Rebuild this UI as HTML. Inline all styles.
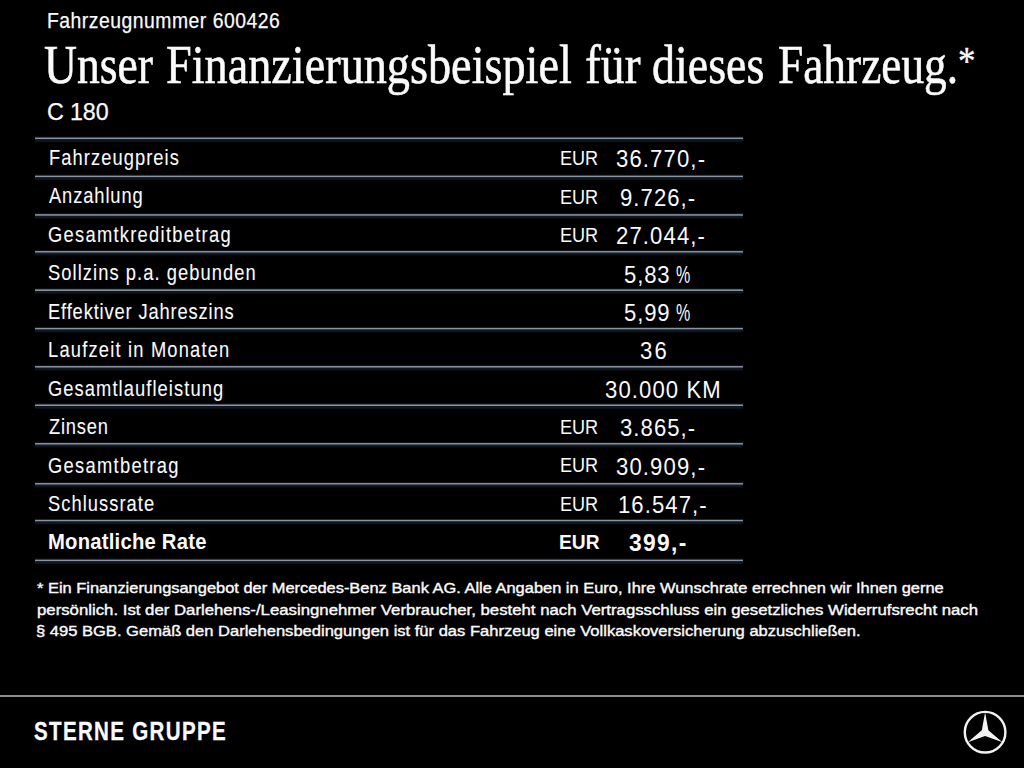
<!DOCTYPE html>
<html><head><meta charset="utf-8"><style>
html,body{margin:0;padding:0;background:#000;}
body{width:1024px;height:768px;position:relative;overflow:hidden;color:#fff;font-family:'Liberation Sans', sans-serif;}
.t{position:absolute;white-space:nowrap;transform-origin:0 0;color:#fafafa;}
svg{position:absolute;left:0;top:0;}
</style></head><body>
<svg width="1024" height="768" viewBox="0 0 1024 768">
<rect x="35" y="136.60" width="708" height="1" fill="#14171b"/><rect x="35" y="137.55" width="708" height="1.7" fill="#8a93a2"/><rect x="35" y="139.25" width="708" height="2.6" fill="#0e1620"/><rect x="35" y="174.70" width="708" height="1" fill="#14171b"/><rect x="35" y="175.65" width="708" height="1.7" fill="#8a93a2"/><rect x="35" y="177.35" width="708" height="2.6" fill="#0e1620"/><rect x="35" y="213.20" width="708" height="1" fill="#14171b"/><rect x="35" y="214.15" width="708" height="1.7" fill="#8a93a2"/><rect x="35" y="215.85" width="708" height="2.6" fill="#0e1620"/><rect x="35" y="250.10" width="708" height="1" fill="#14171b"/><rect x="35" y="251.05" width="708" height="1.7" fill="#8a93a2"/><rect x="35" y="252.75" width="708" height="2.6" fill="#0e1620"/><rect x="35" y="288.40" width="708" height="1" fill="#14171b"/><rect x="35" y="289.35" width="708" height="1.7" fill="#8a93a2"/><rect x="35" y="291.05" width="708" height="2.6" fill="#0e1620"/><rect x="35" y="326.95" width="708" height="1" fill="#14171b"/><rect x="35" y="327.90" width="708" height="1.7" fill="#8a93a2"/><rect x="35" y="329.60" width="708" height="2.6" fill="#0e1620"/><rect x="35" y="365.10" width="708" height="1" fill="#14171b"/><rect x="35" y="366.05" width="708" height="1.7" fill="#8a93a2"/><rect x="35" y="367.75" width="708" height="2.6" fill="#0e1620"/><rect x="35" y="403.50" width="708" height="1" fill="#14171b"/><rect x="35" y="404.45" width="708" height="1.7" fill="#8a93a2"/><rect x="35" y="406.15" width="708" height="2.6" fill="#0e1620"/><rect x="35" y="442.10" width="708" height="1" fill="#14171b"/><rect x="35" y="443.05" width="708" height="1.7" fill="#8a93a2"/><rect x="35" y="444.75" width="708" height="2.6" fill="#0e1620"/><rect x="35" y="482.10" width="708" height="1" fill="#14171b"/><rect x="35" y="483.05" width="708" height="1.7" fill="#8a93a2"/><rect x="35" y="484.75" width="708" height="2.6" fill="#0e1620"/><rect x="35" y="518.90" width="708" height="1" fill="#14171b"/><rect x="35" y="519.85" width="708" height="1.7" fill="#8a93a2"/><rect x="35" y="521.55" width="708" height="2.6" fill="#0e1620"/><rect x="35" y="558.70" width="708" height="1" fill="#14171b"/><rect x="35" y="559.65" width="708" height="1.7" fill="#8a93a2"/><rect x="35" y="561.35" width="708" height="2.6" fill="#0e1620"/>
<rect x="0" y="695.00" width="1024" height="2" fill="#8e8e8e"/>
<circle cx="985.1" cy="732.2" r="20.30" fill="none" stroke="#f2f2f2" stroke-width="2.4"/>
<polygon points="985.10,712.20 988.39,730.30 1002.42,742.20 985.10,736.00 967.78,742.20 981.81,730.30" fill="#f2f2f2"/>
</svg>
<div class="t" style="left:46.96px;top:10.00px;font-family:'Liberation Sans', sans-serif;font-size:22px;line-height:22px;transform:scaleX(0.8800);letter-spacing:0.565px;-webkit-text-stroke:0.25px currentColor;">Fahrzeugnummer 600426</div><div class="t" style="left:44.09px;top:37.00px;font-family:'Liberation Serif', serif;font-size:55.6px;line-height:55.6px;transform:scaleX(0.8204);-webkit-text-stroke:0.6px currentColor;">Unser</div><div class="t" style="left:166.17px;top:37.00px;font-family:'Liberation Serif', serif;font-size:55.6px;line-height:55.6px;transform:scaleX(0.8318);-webkit-text-stroke:0.6px currentColor;">Finanzierungsbeispiel</div><div class="t" style="left:584.68px;top:37.00px;font-family:'Liberation Serif', serif;font-size:55.6px;line-height:55.6px;transform:scaleX(0.8557);-webkit-text-stroke:0.6px currentColor;">für</div><div class="t" style="left:652.32px;top:37.00px;font-family:'Liberation Serif', serif;font-size:55.6px;line-height:55.6px;transform:scaleX(0.8267);-webkit-text-stroke:0.6px currentColor;">dieses</div><div class="t" style="left:778.43px;top:37.00px;font-family:'Liberation Serif', serif;font-size:55.6px;line-height:55.6px;transform:scaleX(0.8160);-webkit-text-stroke:0.6px currentColor;">Fahrzeug.</div><div class="t" style="left:958.03px;top:42.00px;font-family:'Liberation Serif', serif;font-size:39.8px;line-height:39.8px;transform:scaleX(0.8786);-webkit-text-stroke:0.4px currentColor;">*</div><div class="t" style="left:47.45px;top:100.00px;font-family:'Liberation Sans', sans-serif;font-size:24px;line-height:24px;transform:scaleX(0.9700);letter-spacing:-0.136px;-webkit-text-stroke:0.25px currentColor;">C 180</div><div class="t" style="left:48.76px;top:147.00px;font-family:'Liberation Sans', sans-serif;font-size:21.8px;line-height:21.8px;transform:scaleX(0.8400);letter-spacing:1.273px;-webkit-text-stroke:0.1px currentColor;">Fahrzeugpreis</div><div class="t" style="left:48.66px;top:185.00px;font-family:'Liberation Sans', sans-serif;font-size:21.8px;line-height:21.8px;transform:scaleX(0.8400);letter-spacing:1.068px;-webkit-text-stroke:0.1px currentColor;">Anzahlung</div><div class="t" style="left:48.18px;top:224.00px;font-family:'Liberation Sans', sans-serif;font-size:21.8px;line-height:21.8px;transform:scaleX(0.8400);letter-spacing:1.527px;-webkit-text-stroke:0.1px currentColor;">Gesamtkreditbetrag</div><div class="t" style="left:47.68px;top:262.00px;font-family:'Liberation Sans', sans-serif;font-size:21.8px;line-height:21.8px;transform:scaleX(0.8400);letter-spacing:1.266px;-webkit-text-stroke:0.1px currentColor;">Sollzins p.a. gebunden</div><div class="t" style="left:48.16px;top:301.00px;font-family:'Liberation Sans', sans-serif;font-size:21.8px;line-height:21.8px;transform:scaleX(0.8400);letter-spacing:1.012px;-webkit-text-stroke:0.1px currentColor;">Effektiver Jahreszins</div><div class="t" style="left:48.18px;top:339.00px;font-family:'Liberation Sans', sans-serif;font-size:21.8px;line-height:21.8px;transform:scaleX(0.8400);letter-spacing:1.421px;-webkit-text-stroke:0.1px currentColor;">Laufzeit in Monaten</div><div class="t" style="left:48.18px;top:378.00px;font-family:'Liberation Sans', sans-serif;font-size:21.8px;line-height:21.8px;transform:scaleX(0.8400);letter-spacing:1.288px;-webkit-text-stroke:0.1px currentColor;">Gesamtlaufleistung</div><div class="t" style="left:48.63px;top:416.00px;font-family:'Liberation Sans', sans-serif;font-size:21.8px;line-height:21.8px;transform:scaleX(0.8400);letter-spacing:0.952px;-webkit-text-stroke:0.1px currentColor;">Zinsen</div><div class="t" style="left:48.16px;top:455.00px;font-family:'Liberation Sans', sans-serif;font-size:21.8px;line-height:21.8px;transform:scaleX(0.8400);letter-spacing:1.552px;-webkit-text-stroke:0.1px currentColor;">Gesamtbetrag</div><div class="t" style="left:47.64px;top:493.00px;font-family:'Liberation Sans', sans-serif;font-size:21.8px;line-height:21.8px;transform:scaleX(0.8400);letter-spacing:1.251px;-webkit-text-stroke:0.1px currentColor;">Schlussrate</div><div class="t" style="left:48.20px;top:531.00px;font-family:'Liberation Sans', sans-serif;font-size:21.8px;line-height:21.8px;font-weight:bold;transform:scaleX(0.9300);letter-spacing:0.229px;">Monatliche Rate</div><div class="t" style="left:559.89px;top:147.00px;font-family:'Liberation Sans', sans-serif;font-size:21px;line-height:21px;transform:scaleX(0.8609);">EUR</div><div class="t" style="left:559.89px;top:186.00px;font-family:'Liberation Sans', sans-serif;font-size:21px;line-height:21px;transform:scaleX(0.8609);">EUR</div><div class="t" style="left:559.89px;top:224.00px;font-family:'Liberation Sans', sans-serif;font-size:21px;line-height:21px;transform:scaleX(0.8609);">EUR</div><div class="t" style="left:559.89px;top:416.00px;font-family:'Liberation Sans', sans-serif;font-size:21px;line-height:21px;transform:scaleX(0.8609);">EUR</div><div class="t" style="left:559.89px;top:454.00px;font-family:'Liberation Sans', sans-serif;font-size:21px;line-height:21px;transform:scaleX(0.8609);">EUR</div><div class="t" style="left:559.89px;top:493.00px;font-family:'Liberation Sans', sans-serif;font-size:21px;line-height:21px;transform:scaleX(0.8609);">EUR</div><div class="t" style="left:558.53px;top:531.00px;font-family:'Liberation Sans', sans-serif;font-size:21px;line-height:21px;font-weight:bold;transform:scaleX(0.9136);">EUR</div><div class="t" style="left:616.38px;top:148.00px;font-family:'Liberation Sans', sans-serif;font-size:23.5px;line-height:23.5px;transform:scaleX(0.9400);letter-spacing:1.206px;">36.770,-</div><div class="t" style="left:620.40px;top:187.00px;font-family:'Liberation Sans', sans-serif;font-size:23.5px;line-height:23.5px;transform:scaleX(0.9400);letter-spacing:1.128px;">9.726,-</div><div class="t" style="left:616.04px;top:225.00px;font-family:'Liberation Sans', sans-serif;font-size:23.5px;line-height:23.5px;transform:scaleX(0.9400);letter-spacing:1.196px;">27.044,-</div><div class="t" style="left:623.56px;top:264.00px;font-family:'Liberation Sans', sans-serif;font-size:23.5px;line-height:23.5px;transform:scaleX(0.9400);letter-spacing:0.917px;">5,83</div><div class="t" style="left:676.47px;top:264.00px;font-family:'Liberation Sans', sans-serif;font-size:23.5px;line-height:23.5px;transform:scaleX(0.6835);">%</div><div class="t" style="left:623.56px;top:302.00px;font-family:'Liberation Sans', sans-serif;font-size:23.5px;line-height:23.5px;transform:scaleX(0.9400);letter-spacing:0.917px;">5,99</div><div class="t" style="left:676.47px;top:302.00px;font-family:'Liberation Sans', sans-serif;font-size:23.5px;line-height:23.5px;transform:scaleX(0.6835);">%</div><div class="t" style="left:639.89px;top:340.00px;font-family:'Liberation Sans', sans-serif;font-size:23.5px;line-height:23.5px;transform:scaleX(0.9400);letter-spacing:2.270px;">36</div><div class="t" style="left:604.57px;top:379.00px;font-family:'Liberation Sans', sans-serif;font-size:23.5px;line-height:23.5px;transform:scaleX(0.9400);letter-spacing:1.176px;">30.000 KM</div><div class="t" style="left:620.40px;top:417.00px;font-family:'Liberation Sans', sans-serif;font-size:23.5px;line-height:23.5px;transform:scaleX(0.9400);letter-spacing:1.128px;">3.865,-</div><div class="t" style="left:616.38px;top:456.00px;font-family:'Liberation Sans', sans-serif;font-size:23.5px;line-height:23.5px;transform:scaleX(0.9400);letter-spacing:1.206px;">30.909,-</div><div class="t" style="left:617.66px;top:494.00px;font-family:'Liberation Sans', sans-serif;font-size:23.5px;line-height:23.5px;transform:scaleX(0.9400);letter-spacing:1.152px;">16.547,-</div><div class="t" style="left:628.58px;top:532.00px;font-family:'Liberation Sans', sans-serif;font-size:23.5px;line-height:23.5px;font-weight:bold;transform:scaleX(0.9700);letter-spacing:1.397px;">399,-</div><div class="t" style="left:37.30px;top:580.00px;font-family:'Liberation Sans', sans-serif;font-size:15.2px;line-height:15.2px;transform:scaleX(1.0819);-webkit-text-stroke:0.4px currentColor;">* Ein Finanzierungsangebot der Mercedes-Benz Bank AG. Alle Angaben in Euro, Ihre Wunschrate errechnen wir Ihnen gerne</div><div class="t" style="left:36.70px;top:602.00px;font-family:'Liberation Sans', sans-serif;font-size:15.2px;line-height:15.2px;transform:scaleX(1.1037);-webkit-text-stroke:0.4px currentColor;">persönlich. Ist der Darlehens-/Leasingnehmer Verbraucher, besteht nach Vertragsschluss ein gesetzliches Widerrufsrecht nach</div><div class="t" style="left:36.09px;top:623.00px;font-family:'Liberation Sans', sans-serif;font-size:15.2px;line-height:15.2px;transform:scaleX(1.0889);-webkit-text-stroke:0.4px currentColor;">§ 495 BGB. Gemäß den Darlehensbedingungen ist für das Fahrzeug eine Vollkaskoversicherung abzuschließen.</div><div class="t" style="left:34.10px;top:719.00px;font-family:'Liberation Sans', sans-serif;font-size:25.7px;line-height:25.7px;font-weight:bold;transform:scaleX(0.8000);letter-spacing:1.651px;-webkit-text-stroke:0.3px currentColor;">STERNE GRUPPE</div>
</body></html>
